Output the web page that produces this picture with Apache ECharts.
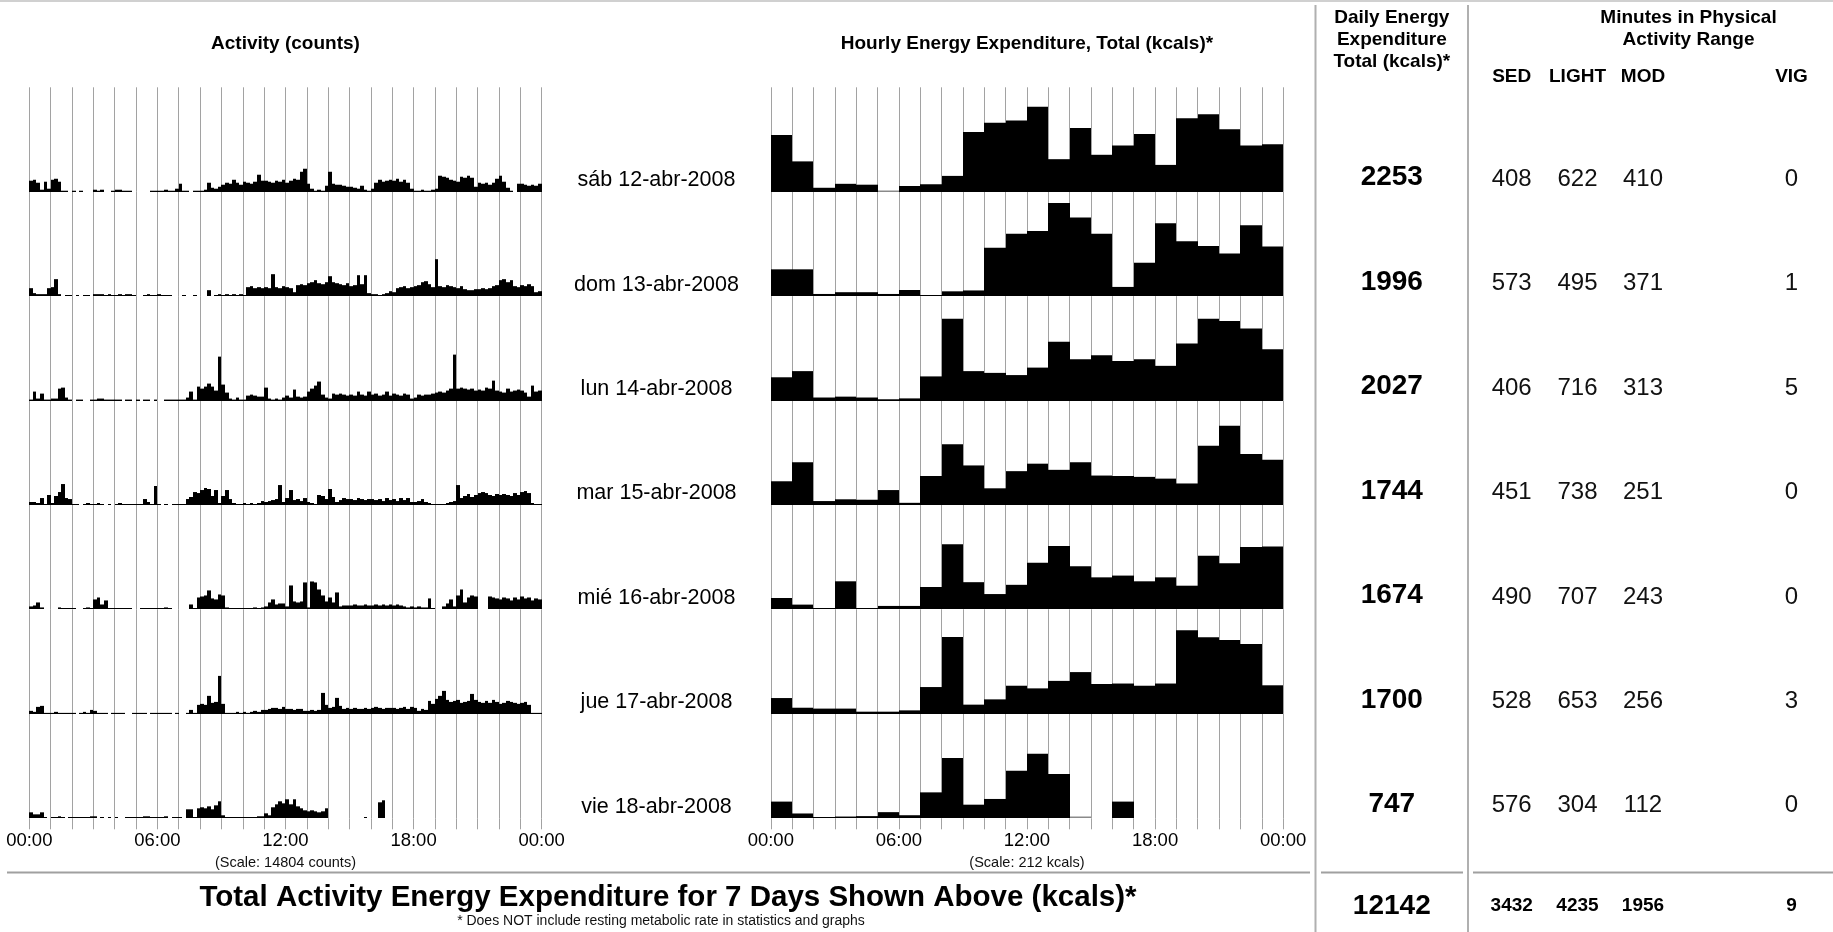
<!DOCTYPE html>
<html>
<head>
<meta charset="utf-8">
<script src="https://cdn.jsdelivr.net/npm/echarts@6/dist/echarts.min.js"></script>
<style>
  html, body { margin: 0; padding: 0; background: #fff; }
  #chart { width: 1833px; height: 932px; }
</style>
</head>
<body>
<div id="chart"></div>
<script>
// ---------- data ----------
const dayLabels = ['sáb 12-abr-2008', 'dom 13-abr-2008', 'lun 14-abr-2008', 'mar 15-abr-2008',
                   'mié 16-abr-2008', 'jue 17-abr-2008', 'vie 18-abr-2008'];
const timeTickLabels = ['00:00', '06:00', '12:00', '18:00', '00:00'];

const dailyKcal    = [2253, 1996, 2027, 1744, 1674, 1700, 747];
const sedMinutes   = [408, 573, 406, 451, 490, 528, 576];
const lightMinutes = [622, 495, 716, 738, 707, 653, 304];
const modMinutes   = [410, 371, 313, 251, 243, 256, 112];
const vigMinutes   = [0, 1, 5, 0, 0, 3, 0];
const weekKcalTotal = 12142;
const activityScaleCounts = 14804;

// hourly activity energy (kcal), hours 00..23; null = no data recorded
const energySab = [129, 69, 9, 18, 16, 0, 13, 17, 36, 136, 157, 162, 193, 74, 145, 84, 105, 131, 61, 167, 176, 142, 105, 108];
const energyDom = [61, 61, 5, 9, 9, 5, 14, 2, 11, 13, 110, 142, 148, 212, 179, 142, 21, 76, 166, 125, 114, 97, 161, 113];
const energyLun = [53, 67, 7, 9, 7, 3, 5, 55, 186, 67, 63, 58, 75, 134, 94, 103, 90, 94, 79, 130, 186, 181, 164, 117];
const energyMar = [54, 97, 9, 13, 12, 34, 5, 66, 138, 90, 38, 77, 94, 80, 97, 67, 66, 64, 60, 49, 135, 180, 116, 103];
const energyMie = [26, 11, 3, 64, 1, 8, 8, 51, 148, 62, 35, 56, 106, 144, 98, 73, 77, 64, 73, 54, 122, 105, 142, 143];
const energyJue = [36, 14, 12, 12, 5, 5, 8, 61, 175, 21, 33, 64, 58, 75, 95, 68, 69, 64, 69, 190, 174, 168, 159, 65];
const energyVie = [38, 11, 3, 4, 5, 14, 7, 59, 137, 31, 44, 108, 147, 101, 0, null, 38, null, null, null, null, null, null, null];

// activity counts, 10-minute bins from 00:00 (six values per hour)
const activitySab = [
  1750,1900,1430,320,1590,480, 1900,2060,1590,160,160,0, 160,0,160,0,0,0, 320,160,320,0,0,160,
  320,320,160,160,160,0, 0,0,0,0,160,160, 160,160,320,160,160,480, 1270,160,160,0,160,160,
  160,320,1430,630,480,790, 1110,1430,1270,1900,1430,1110, 1590,1430,1270,1590,2700,1750, 1750,1590,1430,1750,1590,1900,
  1430,1750,2060,1900,3170,3650, 1270,480,160,320,160,950, 3170,1270,1110,1110,950,790, 790,630,480,950,320,160,
  480,1430,1900,1590,1750,1900, 1750,2060,1590,1900,1430,480, 160,160,320,160,160,320, 480,2540,2380,2220,1900,1750,
  1590,2380,2220,2540,2220,790, 1430,1270,1430,1110,1430,2060, 2540,1590,630,160,0,1270, 1270,1110,950,1110,950,1270
];
const activityDom = [
  1270,480,320,320,320,1270, 1430,2700,320,0,160,160, 0,160,0,160,160,0, 320,320,320,160,320,160,
  160,320,160,320,320,160, 0,0,160,320,160,160, 320,160,160,160,0,0, 0,160,0,0,160,0,
  0,0,950,0,160,320, 160,320,160,320,160,320, 160,1430,1590,1270,1430,1270, 1430,1270,3490,1430,1270,1590,
  1430,1270,630,1750,1900,1750, 2060,2220,2540,2060,1900,2220, 3170,2220,2060,1900,1750,2060, 1590,1750,3330,1900,3330,480,
  320,320,160,320,480,790, 630,1270,1430,1590,1270,1430, 1590,1750,2220,2380,1900,1430, 5870,1590,1430,1750,1590,1430,
  1270,1590,1110,950,950,1110, 1110,1270,1110,1270,1590,1750, 2540,2700,2220,2540,1590,1430, 1750,1590,1900,1590,630,790
];
const activityLun = [
  160,1430,320,1110,160,160, 320,320,1900,2060,480,160, 0,160,160,0,0,160, 160,320,320,160,160,160,
  160,160,0,160,160,0, 160,0,160,160,0,160, 0,0,160,160,160,160, 160,160,480,1430,160,2220,
  1900,2220,2700,2220,1590,6980, 2540,1270,320,160,480,160, 160,790,950,790,630,630, 2060,320,160,320,160,480,
  790,480,1750,630,480,630, 1430,1900,2380,3020,950,480, 320,1110,950,1110,950,790, 950,790,1430,950,790,1430,
  950,1110,790,950,1430,790, 1110,950,790,1110,950,320, 480,950,790,950,950,1110, 1270,1430,1270,1590,1900,7300,
  1900,2060,1900,1750,1900,1590, 1750,1590,2060,1900,3170,1590, 1430,1270,1900,1430,1590,1750, 1590,1270,630,2380,1430,1590
];
const activityMar = [
  480,480,320,1110,160,1590, 320,1430,2060,3330,1110,950, 160,160,0,160,320,160, 160,320,160,0,160,0,
  160,320,160,160,160,160, 160,160,950,480,160,3020, 160,0,160,0,160,160, 160,160,950,1270,2060,1900,
  2380,2700,2540,1430,2380,320, 1430,2380,950,320,160,160, 320,160,320,160,320,630, 480,630,790,950,3170,480,
  1110,2380,790,950,630,1110, 480,320,160,1590,1430,950, 2540,1270,480,790,1110,950, 950,790,1110,950,790,950,
  950,790,950,630,1110,790, 950,630,1110,790,1110,480, 480,630,950,480,320,160, 160,160,160,320,480,630,
  3170,1110,1430,1750,1270,1590, 1900,2060,1900,1590,1430,1750, 1590,1750,1590,1430,1900,1590, 2060,2220,1900,320,160,160
];
const activityMie = [
  480,630,1110,320,0,0, 0,0,320,160,160,160, 160,0,0,160,320,160, 1590,1900,790,1430,160,160,
  160,160,160,160,160,0, 0,160,160,160,160,160, 160,160,320,160,0,0, 0,0,0,790,160,1900,
  2060,2220,3020,1750,1590,2380, 2220,320,160,160,160,160, 160,160,160,320,160,320, 480,1110,1590,790,950,950,
  480,3810,1270,1110,1270,4290, 320,4440,4290,3170,2220,1270, 1900,1110,2700,480,630,630, 630,790,630,630,790,630,
  630,790,630,790,630,790, 630,790,630,480,320,480, 320,480,320,320,1750,160, 0,0,480,950,1590,480,
  2220,3170,1110,1900,2220,2060, 0,0,0,2060,1900,1750, 1590,1900,1750,1430,1900,1590, 2060,1750,1900,1430,1750,1590
];
const activityJue = [
  480,320,1110,1270,160,160, 160,320,160,160,160,160, 160,0,160,320,160,630, 480,160,160,160,0,160,
  160,160,160,0,0,160, 160,160,160,0,160,160, 160,160,160,160,0,160, 0,0,160,630,160,1430,
  1590,1430,2860,1750,1900,6030, 1590,160,160,160,320,160, 320,160,320,480,320,630, 630,790,950,950,790,1110,
  790,790,630,790,790,480, 480,630,480,630,3330,1430, 950,1110,2540,1270,790,950, 790,950,790,790,950,790,
  950,1110,950,790,950,950, 950,790,950,1110,790,1110, 950,480,790,630,2060,1590, 2380,2860,3650,2220,1900,2060,
  2220,1750,1900,2060,3170,2220, 1900,1750,2060,1750,2220,1900, 1590,1750,2060,1900,1750,1590, 1750,1900,1430,160,160,160
];
const activityVie = [
  950,630,630,950,160,0, 160,160,320,160,0,160, 160,160,160,160,160,320, 320,0,160,0,160,0,
  160,0,0,160,160,160, 160,160,320,320,160,160, 160,160,320,0,160,160, 160,0,1430,1430,160,1590,
  1750,1590,1900,1430,2060,2700, 480,160,160,160,160,160, 160,160,160,160,320,320, 790,480,1750,2220,2700,2380,
  3020,2220,3020,1900,1590,1270, 1110,1270,1110,950,1110,1590, 0,0,0,0,0,0, 0,0,0,0,160,0,
  0,0,2540,2860,0,0
];

const energyByDay = [energySab, energyDom, energyLun, energyMar, energyMie, energyJue, energyVie];
const activityByDay = [activitySab, activityDom, activityLun, activityMar, activityMie, activityJue, activityVie];
const energyScaleKcal = Math.max(...energyByDay.flat().filter(v => v !== null));

// ---------- layout ----------
const FONT = '"Liberation Sans", Arial, Helvetica, sans-serif';
const ACT_LEFT = 29.3, EN_LEFT = 770.8, PANEL_W = 512.3;
const ROW_TOP = 87.3, ROW_H = 104.43;
const HEADROOM = 1.12;           // the scale value sits a little below the top of each row
const BIN_HOURS = 1 / 6;
const GRID_COLOR = '#a2a2a2';
const COL_X = { total: 1391.8, sed: 1511.7, light: 1577.5, mod: 1643, vig: 1791.5 };

const baseline = i => ROW_TOP + (i + 1) * ROW_H;

const grids = [], xAxes = [], yAxes = [], series = [];

function addPanel(left, i, yMax, renderItem, data) {
  const last = i === dayLabels.length - 1;
  const idx = grids.length;
  grids.push({ left: left, top: ROW_TOP + i * ROW_H, width: PANEL_W, height: ROW_H, containLabel: false });
  xAxes.push({
    gridIndex: idx, type: 'value', min: 0, max: 24, interval: 1,
    splitLine: { show: true, lineStyle: { color: GRID_COLOR, width: 1 } },
    axisLine: { show: false },
    axisTick: { show: last, length: 11, lineStyle: { color: GRID_COLOR, width: 1 } },
    axisLabel: {
      show: last, margin: 13, showMinLabel: true, showMaxLabel: true,
      fontSize: 18.5, fontFamily: FONT, color: '#000',
      formatter: v => (v % 6 === 0 ? timeTickLabels[v / 6] : '')
    }
  });
  yAxes.push({ gridIndex: idx, type: 'value', min: 0, max: yMax, show: false });
  series.push({
    type: 'custom', coordinateSystem: 'cartesian2d',
    xAxisIndex: idx, yAxisIndex: idx, silent: true,
    encode: { x: 0, y: 1 },
    renderItem: renderItem, data: data
  });
}

// a filled block between two hour positions, snapped to whole pixels so neighbours abut
function block(api, x0, x1, v, minH) {
  const a = api.coord([x0, 0]), b = api.coord([x1, v]);
  const left = Math.round(a[0]), right = Math.max(Math.round(b[0]), left + 1);
  const base = Math.round(a[1]);
  const h = Math.max(base - b[1], minH);
  return { type: 'rect', shape: { x: left, y: base - h, width: right - left, height: h }, style: { fill: '#000' } };
}

function renderActivity(params, api) {
  const x = api.value(0), v = api.value(1);
  if (!v) return null;
  return block(api, x, x + BIN_HOURS, v, 1);
}

function renderEnergy(params, api) {
  const h = api.value(0), v = api.value(1);
  if (v === 0) {
    const a = api.coord([h, 0]), b = api.coord([h + 1, 0]);
    const y = Math.round(a[1]) - 0.75;
    return { type: 'line', shape: { x1: Math.round(a[0]), y1: y, x2: Math.round(b[0]), y2: y },
             style: { stroke: '#8a8a8a', lineWidth: 1.5 } };
  }
  return block(api, h, h + 1, v, 1);
}

dayLabels.forEach((d, i) => {
  addPanel(ACT_LEFT, i, activityScaleCounts * HEADROOM, renderActivity,
           activityByDay[i].map((v, k) => [k * BIN_HOURS, v]));
  addPanel(EN_LEFT, i, energyScaleKcal * HEADROOM, renderEnergy,
           energyByDay[i].map((v, h) => [h, v]).filter(p => p[1] !== null));
});

// ---------- text and rules ----------
function txt(x, y, text, size, bold, align, fill) {
  const font = (bold ? 'bold ' : '') + size + 'px ' + FONT;
  return { type: 'text', x: x, y: y, silent: true,
           style: { text: text, font: font, fill: fill || '#000',
                    textAlign: align || 'center', align: align || 'center',
                    textVerticalAlign: 'middle', verticalAlign: 'middle' } };
}
function rule(x1, y1, x2, y2, color, w) {
  return { type: 'line', silent: true, shape: { x1, y1, x2, y2 }, style: { stroke: color, lineWidth: w } };
}

const sum = arr => arr.reduce((s, v) => s + v, 0);
const actCenter = ACT_LEFT + PANEL_W / 2, enCenter = EN_LEFT + PANEL_W / 2;

const graphics = [
  rule(0, 1, 1833, 1, '#d0d0d0', 2),
  rule(1315.5, 5, 1315.5, 932, '#b0b0b0', 2),
  rule(1468, 5, 1468, 932, '#b0b0b0', 2),
  rule(7, 872.5, 1310, 872.5, '#a0a0a0', 2),
  rule(1321, 872.5, 1463, 872.5, '#a0a0a0', 2),
  rule(1473, 872.5, 1833, 872.5, '#a0a0a0', 2),

  txt(actCenter, 44, 'Activity (counts)', 19, true),
  txt(enCenter, 44, 'Hourly Energy Expenditure, Total (kcals)*', 19, true),
  txt(COL_X.total, 17.5, 'Daily Energy', 19, true),
  txt(COL_X.total, 39.8, 'Expenditure', 19, true),
  txt(COL_X.total, 62.2, 'Total (kcals)*', 19, true),
  txt(1688.5, 17.5, 'Minutes in Physical', 19, true),
  txt(1688.5, 39.8, 'Activity Range', 19, true),
  txt(COL_X.sed, 77, 'SED', 19, true),
  txt(COL_X.light, 77, 'LIGHT', 19, true),
  txt(COL_X.mod, 77, 'MOD', 19, true),
  txt(COL_X.vig, 77, 'VIG', 19, true),

  txt(actCenter, 863, '(Scale: ' + activityScaleCounts + ' counts)', 14.5, false, 'center', '#111'),
  txt(enCenter, 862.5, '(Scale: ' + energyScaleKcal + ' kcals)', 14.5, false, 'center', '#111'),

  txt(668, 897.5, 'Total Activity Energy Expenditure for 7 Days Shown Above (kcals)*', 29.5, true),
  txt(661, 921.5, '* Does NOT include resting metabolic rate in statistics and graphs', 14, false, 'center', '#111'),

  txt(COL_X.total, 906, String(weekKcalTotal), 28, true),
  txt(COL_X.sed, 906, String(sum(sedMinutes)), 19, true),
  txt(COL_X.light, 906, String(sum(lightMinutes)), 19, true),
  txt(COL_X.mod, 906, String(sum(modMinutes)), 19, true),
  txt(COL_X.vig, 906, String(sum(vigMinutes)), 19, true)
];

dayLabels.forEach((d, i) => {
  const y = baseline(i);
  graphics.push(txt(656.5, y - 11.5, d, 21.5, false));
  graphics.push(txt(COL_X.total, y - 14, String(dailyKcal[i]), 28, true));
  graphics.push(txt(COL_X.sed, y - 12.5, String(sedMinutes[i]), 24, false, 'center', '#111'));
  graphics.push(txt(COL_X.light, y - 12.5, String(lightMinutes[i]), 24, false, 'center', '#111'));
  graphics.push(txt(COL_X.mod, y - 12.5, String(modMinutes[i]), 24, false, 'center', '#111'));
  graphics.push(txt(COL_X.vig, y - 12.5, String(vigMinutes[i]), 24, false, 'center', '#111'));
});

const chart = echarts.init(document.getElementById('chart'), null, { renderer: 'canvas', width: 1833, height: 932 });
chart.setOption({
  backgroundColor: '#fff',
  animation: false,
  grid: grids,
  xAxis: xAxes,
  yAxis: yAxes,
  series: series,
  graphic: { elements: graphics }
});
</script>
</body>
</html>
